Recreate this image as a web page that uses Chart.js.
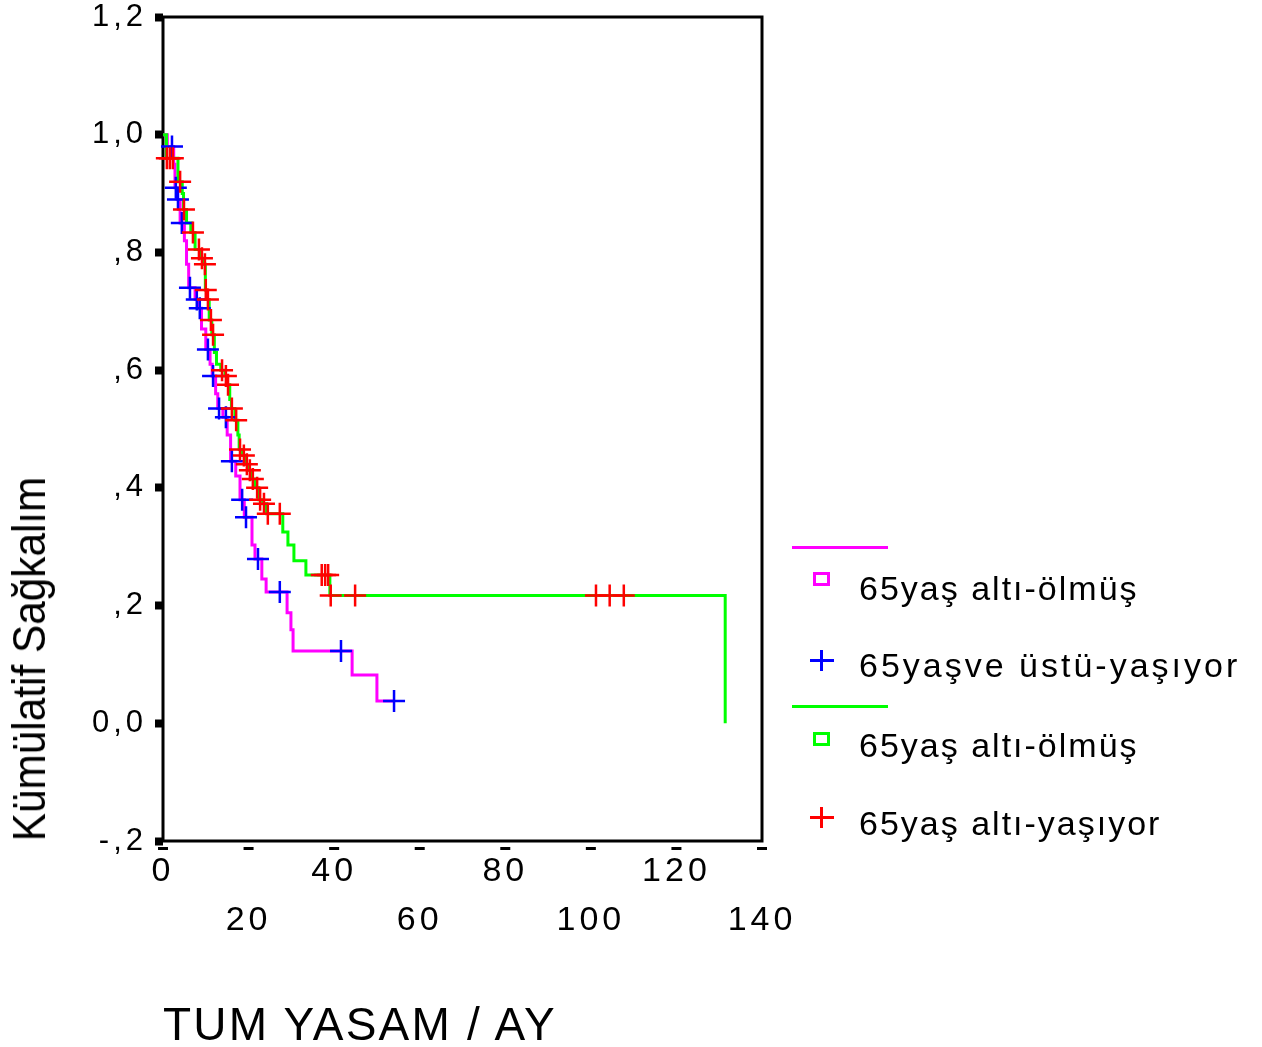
<!DOCTYPE html>
<html>
<head>
<meta charset="utf-8">
<script src="https://cdn.jsdelivr.net/npm/chart.js@4.4.0/dist/chart.umd.min.js"></script>
<style>
  body { margin: 0; background: #fff; }
  #wrap { position: relative; width: 1262px; height: 1047px; overflow: hidden; }
  #km { position: absolute; left: 0; top: 0; }
  .txt { position: absolute; font-family: "Liberation Sans", Arial, sans-serif; color: #000; white-space: nowrap; }
  .leg { font-size: 34px; line-height: 34px; letter-spacing: 2px; left: 859px; }
  .bar { position: absolute; }
</style>
</head>
<body>
<div id="wrap">
  <canvas id="km" width="1262" height="1047"></canvas>

  <div class="txt" id="ytitle" style="left:29px; top:659px; font-size:46px; line-height:46px; transform: translate(-50%,-50%) rotate(-90deg) scaleX(0.92);">Kümülatif Sağkalım</div>
  <div class="txt" style="left:163px; top:1001px; font-size:46px; line-height:46px; letter-spacing:2.2px;">TUM YASAM / AY</div>

  <!-- legend -->
  <div class="bar" style="left:792px; top:546px; width:96px; height:3px; background:#ff00ff;"></div>
  <div class="bar" style="left:813px; top:572px; width:17px; height:14px; box-sizing:border-box; border:3px solid #ff00ff;"></div>
  <div class="txt leg" style="top:571px;">65yaş altı-ölmüş</div>

  <div class="bar" style="left:810px; top:659px; width:24px; height:3px; background:#0000ff;"></div>
  <div class="bar" style="left:820px; top:650px; width:3px; height:21px; background:#0000ff;"></div>
  <div class="txt leg" style="top:648px; letter-spacing:3px;">65yaşve üstü-yaşıyor</div>

  <div class="bar" style="left:792px; top:705px; width:96px; height:3px; background:#00ff00;"></div>
  <div class="bar" style="left:813px; top:732px; width:17px; height:14px; box-sizing:border-box; border:3px solid #00ff00;"></div>
  <div class="txt leg" style="top:728px;">65yaş altı-ölmüş</div>

  <div class="bar" style="left:810px; top:816px; width:24px; height:3px; background:#ff0000;"></div>
  <div class="bar" style="left:820px; top:807px; width:3px; height:21px; background:#ff0000;"></div>
  <div class="txt leg" style="top:806px;">65yaş altı-yaşıyor</div>
</div>

<script>
// axis labels
const xTickLabels = ['0', '20', '40', '60', '80', '100', '120', '140'];
const yTickLabels = ['-,2', '0,0', ',2', ',4', ',6', ',8', '1,0', '1,2'];

// magenta curve (65yas alti-olmus, first group) - step times / survival
const pinkTimes = [0, 1.0, 2.5, 2.8, 3.3, 4.0, 5.0, 5.5, 6.0, 7.5, 8.3, 9.0, 10.0, 11.0, 11.5, 12.3, 12.8, 14.0, 15.0, 15.8, 17.0, 18.0, 19.0, 20.8, 21.5, 23.1, 24.1, 29.0, 29.9, 30.4, 44.2, 50.0, 54.0];
const pinkSurv  = [1.0, 0.98, 0.95, 0.91, 0.89, 0.85, 0.82, 0.78, 0.74, 0.72, 0.705, 0.67, 0.635, 0.61, 0.59, 0.56, 0.535, 0.52, 0.49, 0.445, 0.42, 0.38, 0.35, 0.303, 0.279, 0.245, 0.223, 0.188, 0.159, 0.123, 0.082, 0.038, 0.038];

// blue censored marks (65yasve ustu-yasiyor)
const blueTimes = [2.1, 3.0, 3.5, 4.4, 6.3, 7.9, 8.6, 10.5, 11.7, 13.1, 14.7, 16.1, 18.5, 19.4, 22.2, 27.3, 41.6, 54.0];
const blueSurv  = [0.98, 0.91, 0.89, 0.85, 0.74, 0.72, 0.705, 0.635, 0.59, 0.535, 0.52, 0.445, 0.38, 0.35, 0.279, 0.223, 0.123, 0.038];

// green curve (65yas alti-olmus, second group)
const greenTimes = [0, 0.8, 3.5, 4.5, 4.8, 5.5, 6.5, 7.5, 8.8, 9.5, 9.9, 10.2, 10.8, 11.4, 12.0, 12.5, 13.5, 14.5, 15.0, 15.6, 16.0, 16.8, 17.5, 17.8, 18.6, 19.4, 20.0, 20.8, 21.6, 22.4, 23.3, 24.2, 28.0, 29.2, 30.6, 33.4, 39.0, 131.4];
const greenSurv  = [1.0, 0.96, 0.92, 0.90, 0.873, 0.85, 0.834, 0.805, 0.79, 0.78, 0.736, 0.72, 0.685, 0.66, 0.63, 0.61, 0.60, 0.59, 0.575, 0.55, 0.535, 0.515, 0.49, 0.465, 0.455, 0.44, 0.43, 0.415, 0.40, 0.38, 0.373, 0.356, 0.325, 0.303, 0.276, 0.252, 0.217, 0.0];

// red censored marks (65yas alti-yasiyor)
const redTimes = [0.9, 1.6, 2.3, 4.0, 4.9, 7.0, 8.4, 9.1, 9.8, 10.0, 10.5, 11.2, 11.7, 13.8, 14.7, 15.2, 16.1, 17.1, 18.0, 18.9, 19.6, 20.3, 21.0, 22.0, 22.7, 23.6, 24.5, 27.3, 37.1, 37.9, 38.6, 39.2, 44.9, 101.2, 104.4, 107.7];
const redSurv  = [0.96, 0.96, 0.96, 0.92, 0.873, 0.834, 0.805, 0.79, 0.78, 0.736, 0.72, 0.685, 0.66, 0.60, 0.59, 0.575, 0.535, 0.515, 0.465, 0.455, 0.44, 0.43, 0.415, 0.40, 0.38, 0.373, 0.356, 0.356, 0.252, 0.252, 0.252, 0.217, 0.217, 0.217, 0.217, 0.217];

function pts(xs, ys) {
    return xs.map((x, i) => ({ x: x, y: ys[i] }));
}

const framePlugin = {
    id: 'frame',
    beforeDraw(chart) {
        chart.ctx.letterSpacing = '4px';
    },
    beforeDatasetsDraw(chart) {
        const { ctx, chartArea: a, scales } = chart;
        ctx.save();
        ctx.letterSpacing = '0px';
        ctx.strokeStyle = '#000';
        ctx.lineWidth = 3;
        ctx.strokeRect(a.left, a.top, a.right - a.left, a.bottom - a.top);
        // little dashes under the x axis
        ctx.fillStyle = '#000';
        scales.x.ticks.forEach(t => {
            const px = scales.x.getPixelForValue(t.value);
            ctx.fillRect(px - 5, a.bottom + 6, 10, 3);
        });
        ctx.restore();
    }
};

const curve = (xs, ys, color) => ({
    data: pts(xs, ys),
    showLine: true,
    stepped: true,
    borderColor: color,
    borderWidth: 3,
    pointRadius: 0,
    fill: false
});

const censor = (xs, ys, color) => ({
    data: pts(xs, ys),
    showLine: false,
    pointStyle: 'cross',
    pointRadius: 11,
    pointBorderWidth: 2.5,
    borderColor: color,
    pointBorderColor: color,
    clip: false
});

new Chart(document.getElementById('km'), {
    type: 'scatter',
    data: {
        datasets: [
            censor(redTimes, redSurv, '#ff0000'),
            censor(blueTimes, blueSurv, '#0000ff'),
            curve(greenTimes, greenSurv, '#00ff00'),
            curve(pinkTimes, pinkSurv, '#ff00ff')
        ]
    },
    options: {
        responsive: false,
        animation: false,
        layout: { padding: { top: 17, right: 500, left: 0, bottom: 0 } },
        plugins: {
            legend: { display: false },
            tooltip: { enabled: false }
        },
        scales: {
            x: {
                type: 'linear',
                min: 0,
                max: 140,
                border: { display: false },
                grid: { display: false, drawTicks: false },
                ticks: {
                    stepSize: 20,
                    padding: 6,
                    color: '#000',
                    maxRotation: 0,
                    autoSkip: false,
                    font: { family: '"Liberation Sans", Arial, sans-serif', size: 34, lineHeight: 49 / 34 },
                    callback: (v, i) => (i % 2 ? ['', xTickLabels[i]] : xTickLabels[i])
                },
                afterFit: s => {
                    s.height = 206;
                    s.paddingLeft = 0;
                    s.paddingRight = 0;
                }
            },
            y: {
                min: -0.2,
                max: 1.2,
                border: { display: false },
                grid: {
                    display: true,
                    drawOnChartArea: false,
                    drawTicks: true,
                    tickLength: 8,
                    tickWidth: 8,
                    tickColor: '#000'
                },
                ticks: {
                    stepSize: 0.2,
                    padding: 8,
                    color: '#000',
                    autoSkip: false,
                    font: { family: '"Liberation Sans", Arial, sans-serif', size: 31 },
                    callback: (v, i) => yTickLabels[i]
                },
                afterFit: s => {
                    s.width = 163;
                    s.paddingTop = 0;
                    s.paddingBottom = 0;
                }
            }
        }
    },
    plugins: [framePlugin]
});
</script>
</body>
</html>
